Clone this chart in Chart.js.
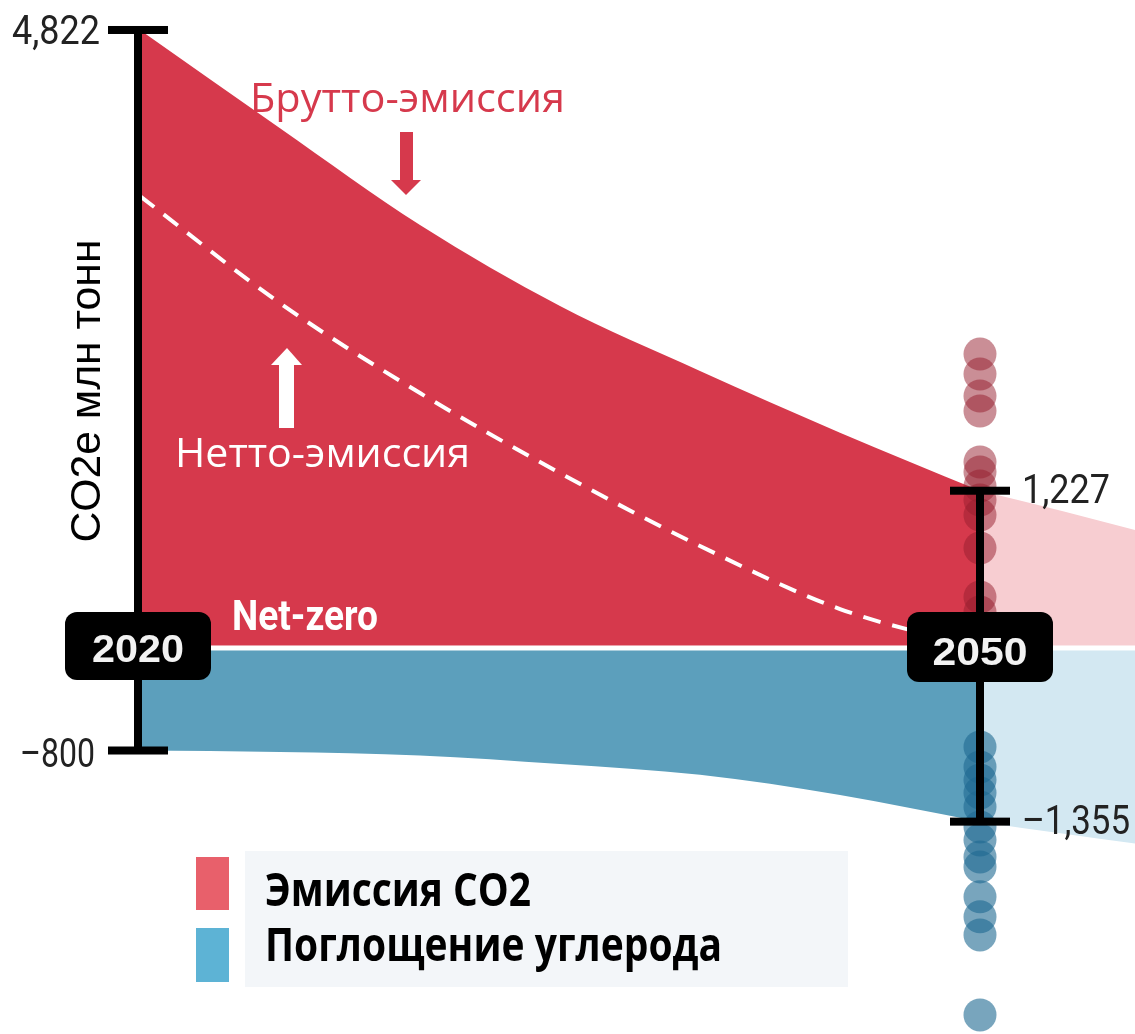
<!DOCTYPE html>
<html>
<head>
<meta charset="utf-8">
<script src="https://cdn.jsdelivr.net/npm/chart.js@4.4.1/dist/chart.umd.min.js"></script>
<style>
  html, body { margin: 0; padding: 0; background: #fff; overflow: hidden; }
  canvas { display: block; }
</style>
</head>
<body>
<canvas id="chart" width="1135" height="1034"></canvas>
<script>
// values (CO2e, mln t)
const years = [2020, 2025, 2030, 2035, 2040, 2045, 2050];
const grossEmission = [4822, 4056, 3300, 2668, 2161, 1680, 1227];
const carbonRemoval = [-800, -811, -838, -905, -990, -1147, -1355];
const netEmission = [3526, 2691, 1989, 1365, 796, 304, 0];

// faded continuation after 2050
const extYears = [2050, 2053, 2056];
const grossExt = [1227, 1065, 895];
const removalExt = [-1355, -1450, -1540];

// scenario spread at 2050
const emissionDots2050 = [2293, 2137, 1966, 1849, 1451, 1373, 1264, 1154, 1037, 780, 398, 281];
const removalDots2050 = [-772, -928, -1030, -1131, -1240, -1396, -1498, -1630, -1708, -1942, -2098, -2239, -2863];

const tickValues = [4822, -800, 1227, -1355];
const tickLabels = ['4,822', '–800', '1,227', '–1,355'];

const RED = '#d6394c';
const BLUE = '#5c9fbc';

const pts = (xs, ys) => xs.map((x, i) => ({x: x, y: ys[i]}));

function txt(ctx, s, x, y, o) {
  ctx.save();
  ctx.font = (o.weight || 'normal') + ' ' + o.size + 'px ' + o.family;
  ctx.fillStyle = o.color || '#000';
  ctx.textBaseline = 'alphabetic';
  ctx.textAlign = 'left';
  const w = ctx.measureText(s).width;
  const sx = o.width ? o.width / w : 1;
  ctx.translate(x, y);
  if (o.rotate) ctx.rotate(o.rotate);
  let left = 0;
  if (o.align === 'right') left = -w * sx;
  else if (o.align === 'center') left = -w * sx / 2;
  ctx.translate(left, 0);
  ctx.scale(sx, 1);
  ctx.fillText(s, 0, 0);
  ctx.restore();
}

function roundBox(ctx, x1, y1, x2, y2, r) {
  ctx.beginPath();
  ctx.moveTo(x1 + r, y1);
  ctx.arcTo(x2, y1, x2, y2, r);
  ctx.arcTo(x2, y2, x1, y2, r);
  ctx.arcTo(x1, y2, x1, y1, r);
  ctx.arcTo(x1, y1, x2, y1, r);
  ctx.closePath();
  ctx.fill();
}

function rangeBar(ctx, x, yTop, yBot) {
  ctx.fillStyle = '#000';
  ctx.fillRect(x - 4, yTop, 8, yBot - yTop);
  ctx.fillRect(x - 30, yTop - 4, 60, 8);
  ctx.fillRect(x - 30, yBot - 4, 60, 8);
}

const decor = {
  id: 'decor',
  afterDatasetsDraw(chart) {
    const ctx = chart.ctx;
    const xs = chart.scales.x, ys = chart.scales.y;
    const x0 = xs.getPixelForValue(2020) - 2;
    const x1 = xs.getPixelForValue(2050);
    const zero = ys.getPixelForValue(0);

    ctx.save();
    // net-zero line
    ctx.fillStyle = '#fff';
    ctx.fillRect(x0 + 4, zero - 2.5, chart.width, 5);

    // range bars
    rangeBar(ctx, x0, ys.getPixelForValue(tickValues[0]), ys.getPixelForValue(tickValues[1]));
    rangeBar(ctx, x1, ys.getPixelForValue(tickValues[2]), ys.getPixelForValue(tickValues[3]));

    // tick labels
    const tf = {family: '"Liberation Sans Narrow", Roboto, sans-serif', size: 40, color: '#222'};
    txt(ctx, tickLabels[0], 100, ys.getPixelForValue(tickValues[0]) + 14, Object.assign({align: 'right', width: 88}, tf));
    txt(ctx, tickLabels[1], 95, ys.getPixelForValue(tickValues[1]) + 16, Object.assign({align: 'right', width: 75}, tf));
    txt(ctx, tickLabels[2], 1022, ys.getPixelForValue(tickValues[2]) + 12, Object.assign({width: 88}, tf));
    txt(ctx, tickLabels[3], 1022, ys.getPixelForValue(tickValues[3]) + 12, Object.assign({width: 108}, tf));

    // year boxes
    ctx.fillStyle = '#000';
    roundBox(ctx, 65, 612, 211, 680, 12);
    roundBox(ctx, 907, 612, 1053, 682, 12);
    const yf = {family: '"Liberation Sans", Arial, sans-serif', weight: 'bold', size: 38, color: '#f2f2f2'};
    txt(ctx, '2020', 138, 662, Object.assign({align: 'center', width: 92}, yf));
    txt(ctx, '2050', 980, 665, Object.assign({align: 'center', width: 95}, yf));

    // axis title
    txt(ctx, 'CO2e млн тонн', 100, 391, {family: '"Liberation Sans", Arial, sans-serif', size: 43,
      align: 'center', width: 303, rotate: -Math.PI / 2, color: '#000'});

    // annotations
    txt(ctx, 'Брутто-эмиссия', 250, 112, {family: '"Open Sans", sans-serif', size: 40, width: 315, color: RED});
    txt(ctx, 'Нетто-эмиссия', 175, 467, {family: '"Open Sans", sans-serif', size: 40, width: 295, color: '#fff'});
    txt(ctx, 'Net-zero', 232, 630, {family: '"Liberation Sans Narrow", Roboto, sans-serif', weight: 'bold',
      size: 42, width: 146, color: '#fff'});

    // arrows
    ctx.fillStyle = RED;
    ctx.fillRect(400, 132, 13, 49);
    ctx.beginPath();
    ctx.moveTo(391, 180); ctx.lineTo(421, 180); ctx.lineTo(406, 195); ctx.closePath(); ctx.fill();
    ctx.fillStyle = '#fff';
    ctx.fillRect(279, 364, 15, 64);
    ctx.beginPath();
    ctx.moveTo(271, 365); ctx.lineTo(302, 365); ctx.lineTo(287, 348); ctx.closePath(); ctx.fill();

    // legend
    ctx.fillStyle = '#f3f6f9';
    ctx.fillRect(245, 851, 603, 136);
    ctx.fillStyle = '#e8606b';
    ctx.fillRect(196, 857, 33, 53);
    ctx.fillStyle = '#5db3d5';
    ctx.fillRect(196, 928, 33, 54);
    const lf = {family: '"Open Sans", sans-serif', weight: 'bold', size: 46, color: '#000'};
    txt(ctx, 'Эмиссия СО2', 265, 906, Object.assign({width: 266}, lf));
    txt(ctx, 'Поглощение углерода', 265, 961, Object.assign({width: 457}, lf));
    ctx.restore();
  }
};

const area = (xs, ys, color) => ({
  data: pts(xs, ys), fill: 'origin', backgroundColor: color, borderWidth: 0,
  pointRadius: 0, cubicInterpolationMode: 'monotone', order: 5
});

const dots = (vals, color) => ({
  data: vals.map(v => ({x: 2050, y: v})), showLine: false, pointRadius: 16.5,
  pointBackgroundColor: color, pointBorderWidth: 0, order: 1
});

new Chart(document.getElementById('chart'), {
  type: 'line',
  data: {
    datasets: [
      area(years, grossEmission, RED),
      area(extYears, grossExt, '#f7cdd1'),
      area(years, carbonRemoval, BLUE),
      area(extYears, removalExt, '#d3e8f2'),
      {
        data: pts(years, netEmission), fill: false, borderColor: '#fff', borderWidth: 4,
        borderDash: [18, 12], pointRadius: 0, cubicInterpolationMode: 'monotone', order: 3
      },
      dots(emissionDots2050, 'rgba(150, 30, 45, 0.5)'),
      dots(removalDots2050, 'rgba(30, 105, 145, 0.6)')
    ]
  },
  options: {
    responsive: false,
    animation: false,
    layout: {padding: 0, autoPadding: false},
    scales: {
      x: {type: 'linear', display: false, min: 2015, max: 2015 + 1135 / 28},
      y: {display: false, min: -3012, max: 5056}
    },
    plugins: {legend: {display: false}, tooltip: {enabled: false}}
  },
  plugins: [decor]
});
</script>
</body>
</html>
